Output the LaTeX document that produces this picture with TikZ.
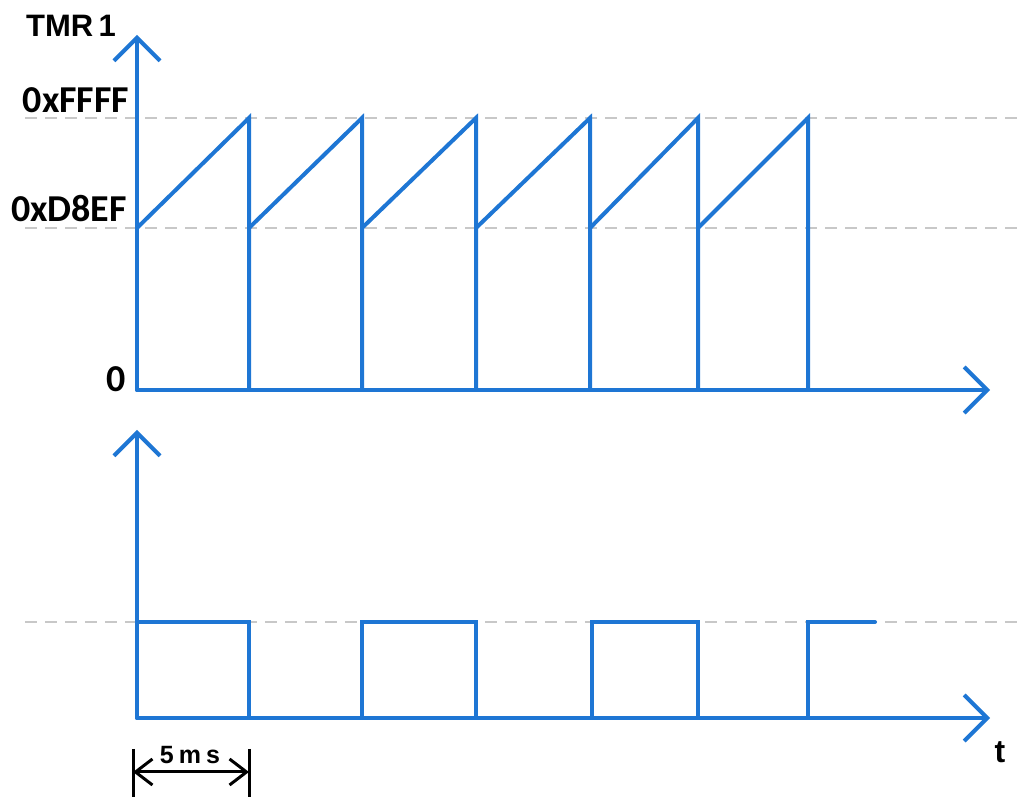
\documentclass[tikz,border=0pt]{standalone}
\usepackage{fontspec}
\setmainfont{Liberation Sans}
\newfontfamily\hexfont{Carlito}
\usetikzlibrary{arrows.meta}
\definecolor{sigblue}{RGB}{30,118,212}
\definecolor{gridgray}{RGB}{200,200,200}
\tikzset{
  sig/.style={sigblue, line width=2pt, line cap=round, line join=miter},
  axe/.style={sig, -{Straight Barb[length=11.5pt, width=23pt, line width=2pt]}},
  niveau/.style={gridgray, line width=1pt, dash pattern=on 6pt off 4pt},
  lbl/.style={font=\hexfont\bfseries\fontsize{19}{19}\selectfont, inner sep=0pt},
  txt/.style={font=\bfseries, inner sep=0pt}
}
\begin{document}
\begin{tikzpicture}[x=0.5pt,y=-0.5pt]
\useasboundingbox (0,0) rectangle (1030,802);
				% Reperes
				\coordinate (O1) at (137,390);
				\coordinate (O2) at (137,718);
				\coordinate (Y1) at (137,35);
				\coordinate (X1) at (990,390);
				\coordinate (Y2) at (137,430);
				\coordinate (X2) at (990,718);
				% Niveaux
				\draw[niveau] (25,118)--(1017,118);
				\draw[niveau] (25,228)--(1017,228);
				\draw[niveau] (25,622)--(1017,622);
				% Etage 1 : TMR1
				\foreach \a/\b in {137/249, 249/362, 362/476, 476/590, 590/698, 698/808}
					\draw[sig] (\a,228)--(\b,118)--(\b,390);
				\draw[axe] (O1)--(Y1);
				\draw[axe] (O1)--(X1);
				\node[txt, font=\bfseries\fontsize{15.5}{15.5}\selectfont] (tmr) at (71,26) {TMR\,1};
				\node[lbl] (ffff) at (76,100) {0xFFFF};
				\node[lbl] (d8ef) at (69,209) {0xD8EF};
				\node[lbl] (zero) at (116,379) {0};
				% Etage 2 : sortie
				\draw[sig] (137,622)--(249,622)--(249,718);
				\draw[sig] (362,718)--(362,622)--(476,622)--(476,718);
				\draw[sig] (592,718)--(592,622)--(698,622)--(698,718);
				\draw[sig] (808,718)--(808,622)--(875,622);
				\draw[axe] (O2)--(Y2);
				\draw[axe] (O2)--(X2);
				\node[txt, font=\bfseries\fontsize{16}{16}\selectfont] (t) at (1000,752) {t};
				% Periode
				\coordinate (p1) at (133,772);
				\coordinate (p2) at (249,772);
				\draw[line width=1.5pt] (133,749)--(133,797);
				\draw[line width=1.5pt] (249,749)--(249,797);
				\draw[line width=1.5pt, {Straight Barb[length=8.5pt, width=13pt]}-{Straight Barb[length=8.5pt, width=13pt]}] (p1)--(p2);
				\node[txt, font=\bfseries\fontsize{12.5}{12.5}\selectfont] (per) at (190,755) {5\hspace{2.5pt}m\hspace{2.5pt}s};
\end{tikzpicture}
\end{document}
